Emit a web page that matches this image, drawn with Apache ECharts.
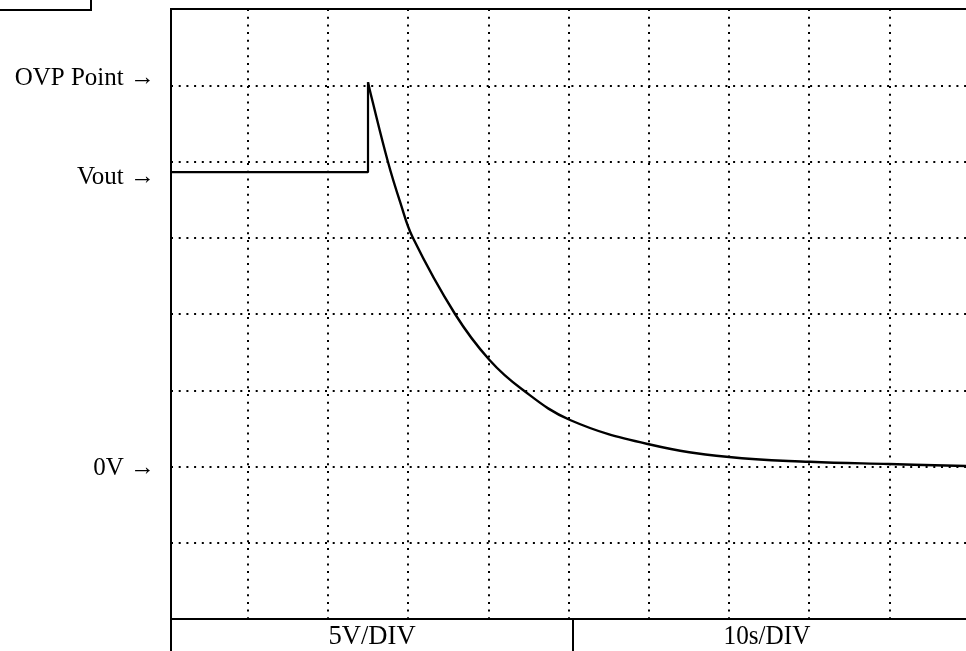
<!DOCTYPE html>
<html>
<head>
<meta charset="utf-8">
<title>OVP discharge</title>
<script src="https://cdn.jsdelivr.net/npm/echarts@6/dist/echarts.min.js"></script>
<style>
  html, body { margin: 0; padding: 0; background: #fff; overflow: hidden; }
  #chart { width: 966px; height: 651px; }
</style>
</head>
<body>
<div id="chart"></div>
<script>
// Output held at Vout until the over-voltage event (seconds, volts)
const holdTime  = [0.45, 25.0, 25.0];
const holdVolts = [19.3, 19.3, 25.2];

// Discharge after OVP trips (seconds, volts)
const decayTime  = [25.0, 25.37, 27.49, 29.0, 30.61, 35.85, 40.15, 44.16, 50.19, 60.16, 70.01, 80.11, 89.96, 99.56];
const decayVolts = [25.2, 24.36, 19.97, 17.36, 14.98, 10.0, 6.98, 5.08, 3.05, 1.44, 0.62, 0.31, 0.16, 0.03];

// Markers on the left side of the screen
const markerNames = ['OVP Point \u2192', 'Vout \u2192', '0V \u2192'];
const markerVolts = [25.45, 18.95, -0.1];

// Scale captions
const scaleCaptions = ['5V/DIV', '10s/DIV'];
const figCaption = 'FIG. 11';

const pairs = (xs, ys) => xs.map((x, i) => [x, ys[i]]);

const chart = echarts.init(document.getElementById('chart'), null, { renderer: 'canvas' });

const dotted = { color: '#000', type: [2, 5.7], width: 2 };
const serif = "'Liberation Serif', 'DejaVu Serif', serif";

const GRID_TOP = 9, GRID_H = 610, V_MIN = -10, V_MAX = 30;
const T_MAX = 99.56;            // time visible at the right edge of the screen
const vToY = v => GRID_TOP + (V_MAX - v) / (V_MAX - V_MIN) * GRID_H;

const hiddenAxis = {
  axisLine: { show: false }, axisTick: { show: false }, axisLabel: { show: false }
};

const option = {
  backgroundColor: '#fff',
  animation: false,
  grid: [
    // time grid: 10 s per division
    { left: 167.5, right: 0, top: GRID_TOP, height: GRID_H, show: false },
    // voltage grid lines start at the screen frame
    { left: 171, right: 0, top: GRID_TOP, height: GRID_H, show: false }
  ],
  xAxis: [
    Object.assign({ type: 'value', gridIndex: 0, min: 0, max: T_MAX, interval: 10,
      splitLine: { show: true, showMinLine: false, showMaxLine: false, lineStyle: dotted } }, hiddenAxis),
    Object.assign({ type: 'value', gridIndex: 1, min: 0, max: 1,
      splitLine: { show: false } }, hiddenAxis)
  ],
  yAxis: [
    Object.assign({ type: 'value', gridIndex: 0, min: V_MIN, max: V_MAX, interval: 5,
      splitLine: { show: false } }, hiddenAxis),
    Object.assign({ type: 'value', gridIndex: 1, min: V_MIN, max: V_MAX, interval: 5,
      splitLine: { show: true, showMinLine: false, showMaxLine: false, lineStyle: dotted } }, hiddenAxis)
  ],
  series: [
    { type: 'line', xAxisIndex: 0, yAxisIndex: 0, data: pairs(holdTime, holdVolts),
      symbol: 'none', lineStyle: { color: '#000', width: 2.2 }, z: 5 },
    { type: 'line', xAxisIndex: 0, yAxisIndex: 0, data: pairs(decayTime, decayVolts),
      symbol: 'none', smooth: 0.4,
      lineStyle: { color: '#000', width: 2.4 }, z: 5 }
  ],
  graphic: [
    // screen frame
    { type: 'rect', shape: { x: 171, y: GRID_TOP, width: 830, height: GRID_H },
      style: { fill: 'none', stroke: '#000', lineWidth: 2 }, z: 10 },
    // caption box at the upper left
    { type: 'rect', shape: { x: -3, y: -30, width: 94, height: 40 },
      style: { fill: '#fff', stroke: '#000', lineWidth: 2 } },
    { type: 'text', x: 48, y: -9,
      style: { text: figCaption, font: '24px ' + serif, fill: '#000',
               align: 'right', verticalAlign: 'middle' } },
    // scale strip under the screen
    { type: 'rect', shape: { x: 171, y: 619, width: 830, height: 60 },
      style: { fill: '#fff', stroke: '#000', lineWidth: 2 } },
    { type: 'line', shape: { x1: 573, y1: 619, x2: 573, y2: 660 },
      style: { stroke: '#000', lineWidth: 2 } },
    { type: 'text', x: 372, y: 637, scaleX: 0.95,
      style: { text: scaleCaptions[0], font: '28px ' + serif, fill: '#000',
               align: 'center', verticalAlign: 'middle' } },
    { type: 'text', x: 767, y: 637, scaleX: 0.9,
      style: { text: scaleCaptions[1], font: '28px ' + serif, fill: '#000',
               align: 'center', verticalAlign: 'middle' } }
  ].concat(markerNames.map((name, i) => ({
    type: 'text', x: 155, y: vToY(markerVolts[i]),
    style: { text: name, font: '25px ' + serif, fill: '#000',
             align: 'right', verticalAlign: 'middle' }
  })))
};

chart.setOption(option);
</script>
</body>
</html>
